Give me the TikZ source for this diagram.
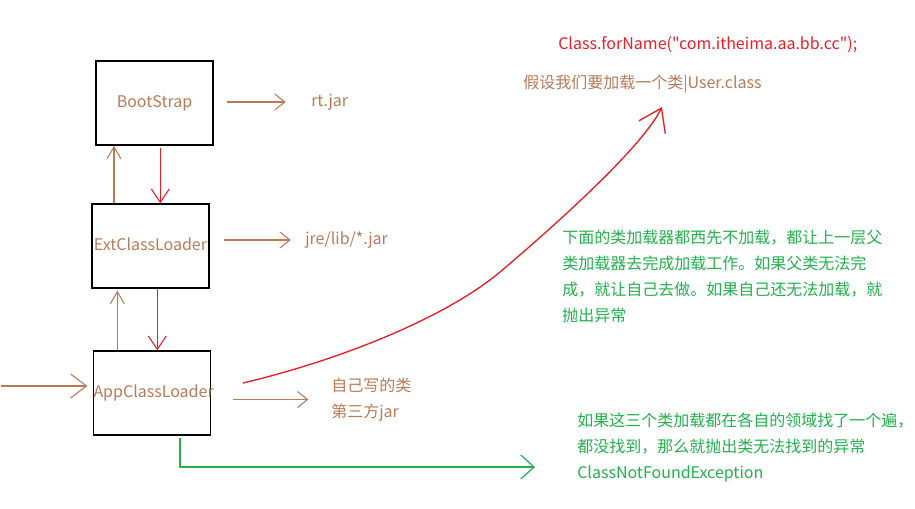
\documentclass[tikz,border=0pt]{standalone}
\usepackage{fontspec}
\setmainfont{Noto Sans CJK SC}[Ligatures=TeXOff]
\usepackage{xcolor}
\usepackage{tikz}
\usetikzlibrary{arrows.meta}

\definecolor{loaderbrown}{RGB}{185,122,87}
\definecolor{paintred}{RGB}{237,28,36}
\definecolor{paintgreen}{RGB}{34,177,76}

\begin{document}
\begin{tikzpicture}[x=0.75pt,y=0.75pt,yscale=-1,xscale=1,
  font=\fontsize{12}{19.5}\selectfont,
  loader/.style={draw=black,line width=1.1pt,text width=87.75pt,align=center,minimum height=63pt,inner sep=0pt,text=loaderbrown},
  note/.style={anchor=west,inner sep=0pt,align=left},
  brownarrow/.style={draw=loaderbrown,line width=0.8pt,-{Straight Barb[length=7.5pt,width=12pt]}},
  redarrow/.style={draw=paintred,line width=0.8pt,-{Straight Barb[length=10pt,width=13.5pt]}},
  greenarrow/.style={draw=paintgreen,line width=0.9pt,-{Straight Barb[length=10pt,width=18pt]}}]
\useasboundingbox (0,0) rectangle (915,508);

% Loader boxes
\node[loader] (boot) at (154.5,103) {BootStrap};
\node[loader] (ext) at (150.5,246) {\raisebox{3pt}{ExtClassLoader}};
\node[loader] (app) at (152,393) {AppClassLoader};

% Text Node
\node[note,text=loaderbrown] (rtjar) at (311,102) {rt.jar};
% Text Node
\node[note,text=loaderbrown] (jrelib) at (305,240) {jre/lib/*.jar};
% Text Node
\node[note,text=loaderbrown] (ownjar) at (331,399.5) {自己写的类\\第三方jar};
% Text Node
\node[note,text=paintred] (forname) at (558,45) {Class.forName("com.itheima.aa.bb.cc");};
% Text Node
\node[note,text=loaderbrown] (assume) at (523,84) {假设我们要加载一个类|User.class};
% Text Node
\node[note,text=paintgreen] (delegate) at (562,276) {下面的类加载器都西先不加载，都让上一层父\\类加载器去完成加载工作。如果父类无法完\\成，就让自己去做。如果自己还无法加载，就\\抛出异常};
% Text Node
\node[note,text=paintgreen] (notfound) at (577,448) {如果这三个类加载都在各自的领域找了一个遍，\\都没找到，那么就抛出类无法找到的异常\\ClassNotFoundException};

% Jar arrows
\draw[brownarrow,shorten <=10pt,shorten >=19pt] (boot.east |- rtjar.west) -- (rtjar.west);
\draw[brownarrow,shorten <=11pt,shorten >=10.7pt] (ext.east |- jrelib.west) -- (jrelib.west);
\draw[brownarrow,shorten <=16.5pt,shorten >=17pt] (app.east |- ownjar.west) -- (ownjar.west);

% Up and down between loaders
\coordinate (upA) at ([xshift=-27.4pt]ext.north);
\coordinate (downA) at ([xshift=4.35pt]boot.south);
\coordinate (upB) at ([xshift=-26pt]app.north);
\coordinate (downB) at ([xshift=5.1pt]ext.south);
\draw[brownarrow,-{Straight Barb[length=9pt,width=10.5pt]}] (upA) -- (upA |- boot.south);
\draw[redarrow,shorten <=2pt] (downA) -- (downA |- ext.north);
\draw[brownarrow,-{Straight Barb[length=9pt,width=10.5pt]},shorten >=1.5pt] (upB) -- (upB |- ext.south);
\draw[redarrow] (downB) -- (downB |- app.north);

% Incoming request
\coordinate (entry) at (1,386);
\draw[brownarrow,-{Straight Barb[length=12pt,width=18pt]},shorten >=4pt] (entry) -- (entry -| app.west);

% Not found
\coordinate (bend) at (180,467);
\coordinate (gend) at (535,467);
\draw[greenarrow,shorten <=2pt] (bend |- app.south) -- (bend) -- (gend);

% Hand drawn curve up to the class
\coordinate (wish) at (243,383);
\coordinate (midway) at (500,272);
\coordinate (userclass) at (662,107);
\draw[paintred,line width=1pt,-{Straight Barb[length=16pt,width=22pt]}] (wish) .. controls (340,360) and (445,318) .. (midway) .. controls (532,245) and (640,152) .. (userclass);

\end{tikzpicture}
\end{document}
